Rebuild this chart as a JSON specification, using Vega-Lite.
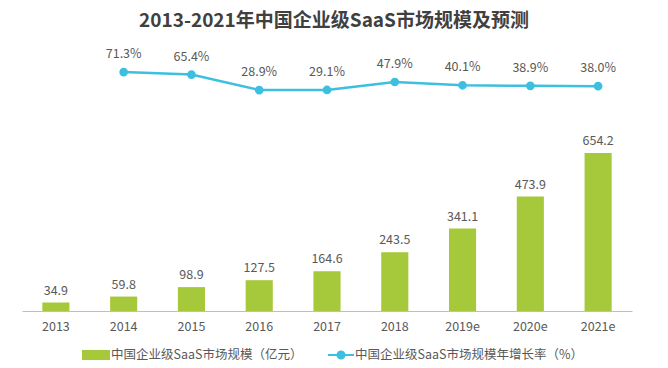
{
  "$schema": "https://vega.github.io/schema/vega-lite/v6.json",
  "autosize": {"type": "none"},
  "width": 610,
  "height": 271,
  "padding": {"left": 22, "top": 40, "right": 36, "bottom": 57},
  "background": "white",
  "config": {
    "view": {"stroke": null},
    "font": "Noto Sans CJK SC",
    "text": {"font": "Noto Sans CJK SC"}
  },
  "title": {
    "text": "2013-2021年中国企业级SaaS市场规模及预测",
    "font": "Noto Sans CJK SC",
    "fontSize": 19,
    "fontWeight": "bold",
    "color": "#404040",
    "anchor": "middle",
    "dx": 7,
    "offset": 9
  },
  "data": {
    "values": [
      {"year": "2013", "size": 34.9, "growth": null},
      {"year": "2014", "size": 59.8, "growth": 0.713},
      {"year": "2015", "size": 98.9, "growth": 0.654},
      {"year": "2016", "size": 127.5, "growth": 0.289},
      {"year": "2017", "size": 164.6, "growth": 0.291},
      {"year": "2018", "size": 243.5, "growth": 0.479},
      {"year": "2019e", "size": 341.1, "growth": 0.401},
      {"year": "2020e", "size": 473.9, "growth": 0.389},
      {"year": "2021e", "size": 654.2, "growth": 0.38}
    ]
  },
  "encoding": {
    "x": {
      "field": "year",
      "type": "nominal",
      "sort": null,
      "scale": {"paddingInner": 0.6, "paddingOuter": 0.3},
      "axis": {
        "title": null,
        "labelAngle": 0,
        "ticks": false,
        "domainColor": "#bfbfbf",
        "domainWidth": 1,
        "labelColor": "#595959",
        "labelFontSize": 12.5,
        "labelFont": "Noto Sans CJK SC",
        "labelPadding": 9
      }
    }
  },
  "layer": [
    {
      "layer": [
        {
          "mark": {"type": "bar"},
          "encoding": {
            "y": {"field": "size", "type": "quantitative", "scale": {"domain": [0, 1122], "nice": false}, "axis": null},
            "color": {
              "datum": "中国企业级SaaS市场规模（亿元）",
              "type": "nominal",
              "scale": {"range": ["#a5c93a"]},
              "legend": {
                "title": null,
                "orient": "none",
                "legendX": 60,
                "legendY": 301,
                "symbolType": "M-1,-0.36H1V0.36H-1Z",
                "symbolSize": 784,
                "symbolStrokeWidth": 0,
                "labelFontSize": 12.5,
                "labelColor": "#595959",
                "labelFont": "Noto Sans CJK SC",
                "labelOffset": 1,
                "labelLimit": 400,
                "padding": 0
              }
            }
          }
        },
        {
          "mark": {"type": "text", "dy": -12, "fontSize": 12.5, "color": "#595959"},
          "encoding": {
            "y": {"field": "size", "type": "quantitative", "scale": {"domain": [0, 1122], "nice": false}, "axis": null},
            "text": {"field": "size", "type": "quantitative", "format": ".1f"}
          }
        }
      ]
    },
    {
      "layer": [
        {
          "mark": {"type": "line", "strokeWidth": 2.5, "point": {"filled": true, "size": 45, "color": "#3dbfe0"}},
          "encoding": {
            "y": {"field": "growth", "type": "quantitative", "scale": {"domain": [-4.916, 1.468], "nice": false, "zero": false}, "axis": null},
            "stroke": {
              "datum": "中国企业级SaaS市场规模年增长率（%）",
              "type": "nominal",
              "scale": {"range": ["#3dbfe0"]},
              "legend": {
                "title": null,
                "orient": "none",
                "legendX": 305,
                "legendY": 301,
                "symbolType": "M-1,0H1M0.27,0A0.27,0.27 0 1,1 -0.27,0A0.27,0.27 0 1,1 0.27,0Z",
                "symbolSize": 676,
                "symbolStrokeWidth": 2,
                "symbolFillColor": "#3dbfe0",
                "symbolStrokeColor": "#3dbfe0",
                "labelFontSize": 12.5,
                "labelColor": "#595959",
                "labelFont": "Noto Sans CJK SC",
                "labelOffset": 0,
                "labelLimit": 400,
                "padding": 0
              }
            }
          }
        },
        {
          "mark": {"type": "text", "dy": -18, "fontSize": 12.5, "color": "#595959"},
          "encoding": {
            "y": {"field": "growth", "type": "quantitative", "scale": {"domain": [-4.916, 1.468], "nice": false, "zero": false}, "axis": null},
            "text": {"field": "growth", "type": "quantitative", "format": ".1%"}
          }
        }
      ]
    }
  ],
  "resolve": {"scale": {"y": "independent"}}
}
